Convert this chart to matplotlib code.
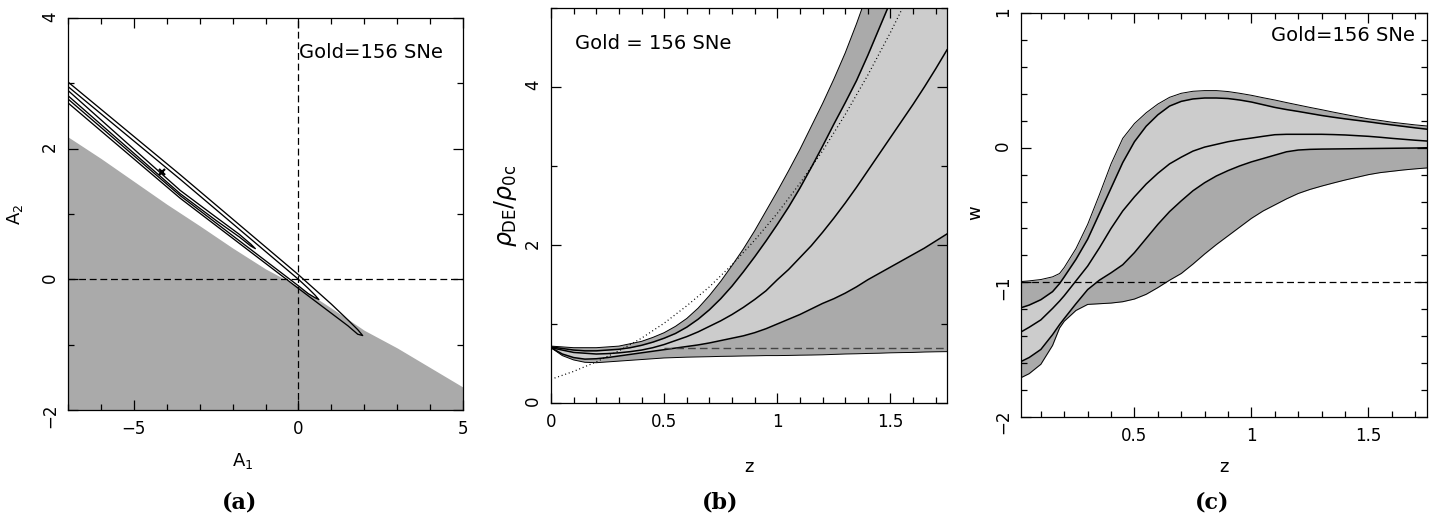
import matplotlib
matplotlib.use('Agg')
import matplotlib.pyplot as plt
from matplotlib.ticker import MultipleLocator, FuncFormatter

# ---- panel (a): A1-A2 plane ----
a_shade_x = [-7, -6, -5, -4, -3, -2, -1, 0, 1, 2, 3, 4, 5]
a_shade_y = [2.18, 1.85, 1.50, 1.15, 0.82, 0.48, 0.16, -0.11, -0.44, -0.78, -1.05, -1.35, -1.65]

# contour outlines: along the top edge to the tip, back along the bottom edge
c3_x = [-7.3, -7.0, -3.59, 0.0, 1.0, 1.5, 1.8, 1.95, 1.8, 1.5, 1.0, 0.0, -3.59, -7.0, -7.3]
c3_y = [3.15, 3.02, 1.60, 0.07, -0.38, -0.62, -0.77, -0.86, -0.84, -0.71, -0.52, -0.14, 1.24, 2.70, 2.83]
c2_x = [-7.3, -7.0, -3.59, 0.0, 0.3, 0.5, 0.62, 0.5, 0.3, 0.0, -3.59, -7.0, -7.3]
c2_y = [3.08, 2.95, 1.53, 0.00, -0.14, -0.24, -0.31, -0.28, -0.22, -0.10, 1.28, 2.76, 2.89]
c1_x = [-7.3, -7.0, -3.59, -2.5, -1.8, -1.45, -1.31, -1.45, -1.8, -2.5, -3.59, -7.0, -7.3]
c1_y = [3.02, 2.89, 1.36, 0.95, 0.69, 0.54, 0.47, 0.51, 0.65, 0.90, 1.31, 2.81, 2.94]
best_a1, best_a2 = -4.14, 1.64

# ---- panel (b): rho_DE / rho_0c vs z ----
b_z = [0.0, 0.05, 0.1, 0.15, 0.2, 0.25, 0.3, 0.35, 0.4, 0.45, 0.5, 0.55, 0.6, 0.65, 0.7, 0.75, 0.8, 0.85,
       0.9, 0.95, 1.0, 1.05, 1.1, 1.15, 1.2, 1.25, 1.3, 1.35, 1.4, 1.45, 1.5, 1.55, 1.6, 1.65, 1.7, 1.75]
b_up2 = [0.72, 0.71, 0.70, 0.70, 0.70, 0.71, 0.72, 0.75, 0.78, 0.83, 0.89, 0.97, 1.07, 1.20, 1.36, 1.54, 1.74, 1.95,
         2.18, 2.43, 2.68, 2.94, 3.21, 3.50, 3.79, 4.10, 4.43, 4.80, 5.20, 5.60, 6.00, 6.45, 6.90, 7.35, 7.80, 8.25]
b_up1 = [0.71, 0.69, 0.67, 0.66, 0.66, 0.67, 0.68, 0.70, 0.73, 0.77, 0.82, 0.88, 0.96, 1.06, 1.18, 1.32, 1.48, 1.66,
         1.85, 2.05, 2.26, 2.48, 2.72, 2.98, 3.25, 3.53, 3.80, 4.08, 4.40, 4.74, 5.08, 5.43, 5.80, 6.18, 6.56, 6.95]
b_mid = [0.70, 0.67, 0.64, 0.63, 0.62, 0.625, 0.635, 0.65, 0.67, 0.70, 0.74, 0.79, 0.84, 0.90, 0.97, 1.04, 1.12, 1.21,
         1.31, 1.42, 1.56, 1.69, 1.84, 1.99, 2.16, 2.34, 2.53, 2.73, 2.94, 3.15, 3.36, 3.57, 3.78, 4.00, 4.23, 4.47]
b_lo1 = [0.70, 0.62, 0.575, 0.555, 0.56, 0.575, 0.595, 0.615, 0.635, 0.655, 0.675, 0.695, 0.715, 0.735, 0.76, 0.79,
         0.82, 0.85, 0.89, 0.94, 1.00, 1.06, 1.12, 1.19, 1.26, 1.32, 1.39, 1.47, 1.56, 1.64, 1.72, 1.80, 1.88, 1.96,
         2.05, 2.14]
b_lo2 = [0.70, 0.60, 0.545, 0.515, 0.51, 0.52, 0.53, 0.54, 0.55, 0.56, 0.57, 0.575, 0.58, 0.583, 0.586, 0.59, 0.592,
         0.595, 0.597, 0.60, 0.60, 0.602, 0.605, 0.607, 0.61, 0.615, 0.62, 0.623, 0.627, 0.63, 0.635, 0.638, 0.64,
         0.645, 0.648, 0.65]
b_lcdm = 0.7
dust_z = [0, 0.1, 0.2, 0.3, 0.4, 0.5, 0.6, 0.7, 0.8, 0.9, 1.0, 1.1, 1.2, 1.3, 1.4, 1.5, 1.6]
dust_y = [0.30, 0.40, 0.52, 0.66, 0.82, 1.01, 1.23, 1.47, 1.75, 2.06, 2.40, 2.78, 3.19, 3.65, 4.15, 4.69, 5.27]

# ---- panel (c): w vs z ----
c_z = [0.015, 0.05, 0.1, 0.15, 0.18, 0.2, 0.25, 0.3, 0.35, 0.4, 0.45, 0.5, 0.55, 0.6, 0.65, 0.7, 0.75, 0.8, 0.85,
       0.9, 0.95, 1.0, 1.05, 1.1, 1.15, 1.2, 1.25, 1.3, 1.35, 1.4, 1.45, 1.5, 1.55, 1.6, 1.65, 1.7, 1.75]
w_up2 = [-0.995, -0.99, -0.98, -0.96, -0.935, -0.89, -0.75, -0.57, -0.35, -0.12, 0.07, 0.18, 0.26, 0.325, 0.375,
         0.405, 0.42, 0.425, 0.425, 0.418, 0.405, 0.39, 0.372, 0.355, 0.336, 0.318, 0.30, 0.283, 0.265, 0.248, 0.231,
         0.215, 0.203, 0.19, 0.18, 0.17, 0.162]
w_up1 = [-1.19, -1.17, -1.13, -1.07, -1.01, -0.96, -0.83, -0.68, -0.49, -0.30, -0.11, 0.045, 0.16, 0.245, 0.31,
         0.345, 0.363, 0.37, 0.37, 0.366, 0.355, 0.34, 0.32, 0.30, 0.284, 0.27, 0.255, 0.24, 0.227, 0.215, 0.204,
         0.193, 0.181, 0.17, 0.159, 0.148, 0.138]
w_mid = [-1.37, -1.335, -1.28, -1.195, -1.14, -1.10, -0.99, -0.88, -0.745, -0.60, -0.47, -0.365, -0.27, -0.19,
         -0.12, -0.07, -0.025, 0.005, 0.025, 0.045, 0.06, 0.072, 0.085, 0.097, 0.10, 0.10, 0.10, 0.10, 0.098, 0.095,
         0.09, 0.085, 0.078, 0.07, 0.063, 0.056, 0.05]
w_lo1 = [-1.59, -1.56, -1.50, -1.39, -1.315, -1.27, -1.16, -1.055, -0.985, -0.93, -0.87, -0.78, -0.675, -0.57,
         -0.475, -0.395, -0.32, -0.26, -0.21, -0.17, -0.135, -0.105, -0.08, -0.055, -0.03, -0.017, -0.012, -0.01,
         -0.009, -0.008, -0.007, -0.006, -0.005, -0.004, -0.003, -0.002, 0.0]
w_lo2 = [-1.71, -1.68, -1.61, -1.47, -1.34, -1.29, -1.21, -1.165, -1.16, -1.155, -1.145, -1.125, -1.09, -1.04,
         -0.985, -0.935, -0.865, -0.79, -0.72, -0.655, -0.59, -0.525, -0.47, -0.425, -0.38, -0.34, -0.31, -0.285,
         -0.262, -0.24, -0.22, -0.20, -0.185, -0.175, -0.165, -0.157, -0.15]
w_lcdm = -1.0

DARK = '#aaaaaa'
LIGHT = '#cccccc'
DASH = (5.5, 3)


def fmt(v, pos):
    return ('%g' % v).replace('-', '\u2212')


def style(ax, xmaj, xmin, ymaj, ymin):
    ax.xaxis.set_major_locator(MultipleLocator(xmaj))
    ax.xaxis.set_minor_locator(MultipleLocator(xmin))
    ax.yaxis.set_major_locator(MultipleLocator(ymaj))
    ax.yaxis.set_minor_locator(MultipleLocator(ymin))
    ax.xaxis.set_major_formatter(FuncFormatter(fmt))
    ax.yaxis.set_major_formatter(FuncFormatter(fmt))
    ax.tick_params(which='both', direction='in', top=True, right=True, width=0.9, labelsize=12)
    ax.tick_params(which='major', length=7.5)
    ax.tick_params(which='minor', length=4)
    ax.tick_params(axis='y', labelrotation=90, pad=6.5)
    ax.tick_params(axis='x', pad=7.5)
    for s in ax.spines.values():
        s.set_linewidth(0.9)


fig = plt.figure(figsize=(14.39, 5.25), dpi=100)

# (a)
ax1 = fig.add_axes([0.0473, 0.219, 0.2745, 0.7467])
ax1.fill_between(a_shade_x, a_shade_y, -3, color=DARK, lw=0, zorder=1)
ax1.axhline(0, color='k', lw=0.9, dashes=DASH, zorder=2)
ax1.axvline(0, color='k', lw=0.9, dashes=DASH, zorder=2)
for cx, cy in [(c3_x, c3_y), (c2_x, c2_y), (c1_x, c1_y)]:
    ax1.plot(cx, cy, color='k', lw=0.95, zorder=3)
ax1.plot(best_a1, best_a2, marker='x', color='k', ms=4, mew=1.6, zorder=4)
ax1.set_xlim(-7, 5)
ax1.set_ylim(-2, 4)
style(ax1, 5, 1, 2, 1)
ax1.text(0.585, 0.913, 'Gold=156 SNe', transform=ax1.transAxes, fontsize=14, ha='left', va='center')
ax1.set_xlabel(r'$\mathrm{A}_1$', fontsize=13)
ax1.xaxis.set_label_coords(0.443, -0.13)
ax1.xaxis.label.set_va('center')
ax1.set_ylabel(r'$\mathrm{A}_2$', fontsize=13)
ax1.yaxis.set_label_coords(-0.134, 0.50)
ax1.yaxis.label.set_va('center')

# (b)
ax2 = fig.add_axes([0.3829, 0.2324, 0.2752, 0.7524])
ax2.fill_between(b_z, b_lo2, b_up2, color=DARK, lw=0, zorder=1)
ax2.fill_between(b_z, b_lo1, b_up1, color=LIGHT, lw=0, zorder=1)
ax2.plot(b_z, b_up2, color='k', lw=0.7, zorder=2)
ax2.plot(b_z, b_lo2, color='k', lw=0.7, zorder=2)
for yy in (b_up1, b_mid, b_lo1):
    ax2.plot(b_z, yy, color='k', lw=1.1, zorder=2)
ax2.axhline(b_lcdm, xmin=0.5 / 1.75, color='#444444', lw=1.0, dashes=DASH, zorder=3)
ax2.plot(dust_z, dust_y, color='k', lw=0.9, dashes=(0.8, 2.2), zorder=3)
ax2.set_xlim(0, 1.75)
ax2.set_ylim(0, 5)
style(ax2, 0.5, 0.1, 2, 1)
ax2.text(0.06, 0.911, 'Gold = 156 SNe', transform=ax2.transAxes, fontsize=14, ha='left', va='center')
ax2.set_xlabel('z', fontsize=13)
ax2.xaxis.set_label_coords(0.50, -0.162)
ax2.xaxis.label.set_va('center')
ax2.set_ylabel(r'$\rho_{\mathrm{DE}}/\rho_{\mathrm{0c}}$', fontsize=17)
ax2.yaxis.set_label_coords(-0.116, 0.50)
ax2.yaxis.label.set_va('center')

# (c)
ax3 = fig.add_axes([0.7095, 0.2063, 0.2821, 0.7684])
ax3.fill_between(c_z, w_lo2, w_up2, color=DARK, lw=0, zorder=1)
ax3.fill_between(c_z, w_lo1, w_up1, color=LIGHT, lw=0, zorder=1)
ax3.plot(c_z, w_up2, color='k', lw=0.7, zorder=2)
ax3.plot(c_z, w_lo2, color='k', lw=0.7, zorder=2)
for yy in (w_up1, w_mid, w_lo1):
    ax3.plot(c_z, yy, color='k', lw=1.1, zorder=2)
ax3.axhline(w_lcdm, color='k', lw=0.9, dashes=DASH, zorder=3)
ax3.set_xlim(0.015, 1.75)
ax3.set_ylim(-2, 1)
style(ax3, 0.5, 0.1, 1, 0.2)
ax3.text(0.97, 0.946, 'Gold=156 SNe', transform=ax3.transAxes, fontsize=14, ha='right', va='center')
ax3.set_xlabel('z', fontsize=13)
ax3.xaxis.set_label_coords(0.50, -0.125)
ax3.xaxis.label.set_va('center')
ax3.set_ylabel('w', fontsize=13)
ax3.yaxis.set_label_coords(-0.113, 0.505)
ax3.yaxis.label.set_va('center')

# panel letters
for xp, lab in [(240, '(a)'), (720, '(b)'), (1212, '(c)')]:
    fig.text(xp / 1439, 1 - 503 / 525, lab, ha='center', va='center', fontsize=16,
             fontweight='bold', family='DejaVu Serif')

fig.savefig('out.png', dpi=100)
